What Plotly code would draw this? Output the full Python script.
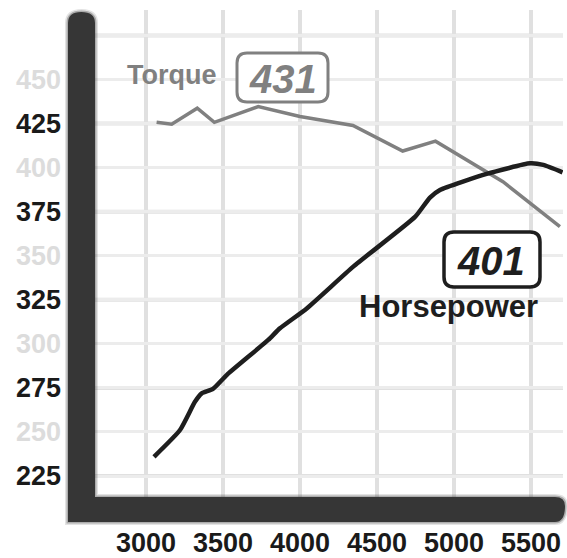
import plotly.graph_objects as go

# ---- data ----
torque_rpm = [3069, 3167, 3333, 3444, 3729, 4000, 4344, 4667, 4880, 5318, 5688]
torque_val = [425.7, 424.6, 433.7, 425.7, 434.6, 429.0, 423.9, 409.4, 415.0, 392.0, 366.5]

hp_rpm = [3052, 3221, 3318, 3362, 3435, 3524, 3794, 3870, 4044, 4346, 4747, 4844, 4909, 5212, 5494, 5580, 5705]
hp_val = [235.9, 251.1, 267.1, 271.9, 274.4, 282.3, 302.2, 308.8, 320.1, 343.8, 372.0, 383.0, 387.3, 396.4, 402.4, 401.5, 397.3]

x_ticks = [3000, 3500, 4000, 4500, 5000, 5500]
y_ticks = [225, 250, 275, 300, 325, 350, 375, 400, 425, 450, 475]
y_labels = ["225", "250", "275", "300", "325", "350", "375", "400", "425", "450", ""]
y_label_dark = [True, False, True, False, True, False, True, False, True, False, False]
thick_grid = [225, 275, 325, 375, 425, 475]

torque_peak = "431"
hp_peak = "401"

# ---- geometry helpers (pixel -> paper) ----
W, H = 567, 558
ML, MR, MT, MB = 95, 4, 10, 61
PW, PH = W - ML - MR, H - MT - MB


def fx(px):
    return (px - ML) / PW


def fy(py):
    return (H - MB - py) / PH


def rrect(x0, y0, x1, y1, r):
    p = []
    p.append(f"M {fx(x0 + r)} {fy(y0)}")
    p.append(f"L {fx(x1 - r)} {fy(y0)}")
    p.append(f"Q {fx(x1)} {fy(y0)} {fx(x1)} {fy(y0 + r)}")
    p.append(f"L {fx(x1)} {fy(y1 - r)}")
    p.append(f"Q {fx(x1)} {fy(y1)} {fx(x1 - r)} {fy(y1)}")
    p.append(f"L {fx(x0 + r)} {fy(y1)}")
    p.append(f"Q {fx(x0)} {fy(y1)} {fx(x0)} {fy(y1 - r)}")
    p.append(f"L {fx(x0)} {fy(y0 + r)}")
    p.append(f"Q {fx(x0)} {fy(y0)} {fx(x0 + r)} {fy(y0)}")
    p.append("Z")
    return " ".join(p)


def lshape(e):
    x0, x1 = 68 - e, 95 + e
    yt, yb = 12 - e, 522 + e
    hy0 = 497 - e
    xr = 565 + e
    r = 11 + e
    rr = 10 + e
    p = [
        f"M {fx(x0)} {fy(yt + r)}",
        f"Q {fx(x0)} {fy(yt)} {fx(x0 + r * 1.2)} {fy(yt)}",
        f"Q {fx(x1)} {fy(yt)} {fx(x1)} {fy(yt + r)}",
        f"L {fx(x1)} {fy(hy0)}",
        f"L {fx(xr - rr)} {fy(hy0)}",
        f"Q {fx(xr)} {fy(hy0)} {fx(xr)} {fy(hy0 + rr * 0.9)}",
        f"Q {fx(xr)} {fy(yb)} {fx(xr - rr)} {fy(yb)}",
        f"L {fx(x0)} {fy(yb)}",
        "Z",
    ]
    return " ".join(p)


fig = go.Figure()

fig.add_trace(go.Scatter(
    x=torque_rpm, y=torque_val, mode="lines",
    line=dict(color="#808080", width=3.5), hoverinfo="skip"))
fig.add_trace(go.Scatter(
    x=hp_rpm, y=hp_val, mode="lines",
    line=dict(color="#1e1e1e", width=4.5, shape="spline", smoothing=0.5),
    hoverinfo="skip"))

shapes = []
for v in thick_grid:
    shapes.append(dict(type="line", xref="paper", yref="y", x0=0, x1=1, y0=v, y1=v,
                       line=dict(color="#e0e0e0", width=4), layer="below"))
for e, op in [(3, 0.15), (1.5, 0.35)]:
    shapes.append(dict(type="path", xref="paper", yref="paper", path=lshape(e),
                       fillcolor="#444444", opacity=op, line=dict(width=0), layer="above"))
shapes.append(dict(type="path", xref="paper", yref="paper", path=lshape(0),
                   fillcolor="#363636", line=dict(width=0), layer="above"))
shapes.append(dict(type="path", xref="paper", yref="paper", path=rrect(237, 53, 328, 102, 10),
                   fillcolor="white", line=dict(color="#808080", width=3), layer="above"))
shapes.append(dict(type="path", xref="paper", yref="paper", path=rrect(444, 232, 540, 287, 10),
                   fillcolor="white", line=dict(color="#1e1e1e", width=3.5), layer="above"))

common = dict(xref="paper", yref="paper", showarrow=False, xanchor="center", yanchor="middle")
annotations = [
    dict(text="<b>Torque</b>", x=fx(172), y=fy(75),
         font=dict(family="Liberation Sans", size=27, color="#808080"), **common),
    dict(text=f"<b><i>{torque_peak}</i></b>", x=fx(283), y=fy(79),
         font=dict(family="Liberation Sans", size=40, color="#808080"), **common),
    dict(text=f"<b><i>{hp_peak}</i></b>", x=fx(491), y=fy(261),
         font=dict(family="Liberation Sans", size=40, color="#1e1e1e"), **common),
    dict(text="<b>Horsepower</b>", x=fx(448), y=fy(306),
         font=dict(family="Liberation Sans", size=31, color="#1e1e1e"), **common),
]

y_text = [
    (f'<span style="color:#1a1a1a">{t}</span>' if d else f'<span style="color:#dcdcdc">{t}</span>')
    for t, d in zip(y_labels, y_label_dark)
]

fig.update_layout(
    width=W, height=H,
    margin=dict(l=ML, r=MR, t=MT, b=MB, pad=0, autoexpand=False),
    paper_bgcolor="white", plot_bgcolor="white",
    showlegend=False,
    shapes=shapes, annotations=annotations,
    xaxis=dict(range=[2669, 5708], tickvals=x_ticks, ticktext=[f"<b>{v}</b>" for v in x_ticks],
               showgrid=True, gridcolor="#e0e0e0", gridwidth=4, zeroline=False,
               showline=False, ticks="", ticklabelstandoff=27, tickangle=0, automargin=False,
               tickfont=dict(family="Liberation Sans", size=27, color="#1a1a1a")),
    yaxis=dict(range=[213.1, 489.4], tickvals=y_ticks, ticktext=[f"<b>{t}</b>" for t in y_text],
               showgrid=True, gridcolor="#ececec", gridwidth=2.5, zeroline=False,
               showline=False, ticks="", ticklabelstandoff=33, automargin=False,
               tickfont=dict(family="Liberation Sans", size=27, color="#1a1a1a")),
)

fig.write_html("out.html",
               config={"displayModeBar": False},
               post_script="document.body.style.margin='0';document.body.style.padding='0';")
